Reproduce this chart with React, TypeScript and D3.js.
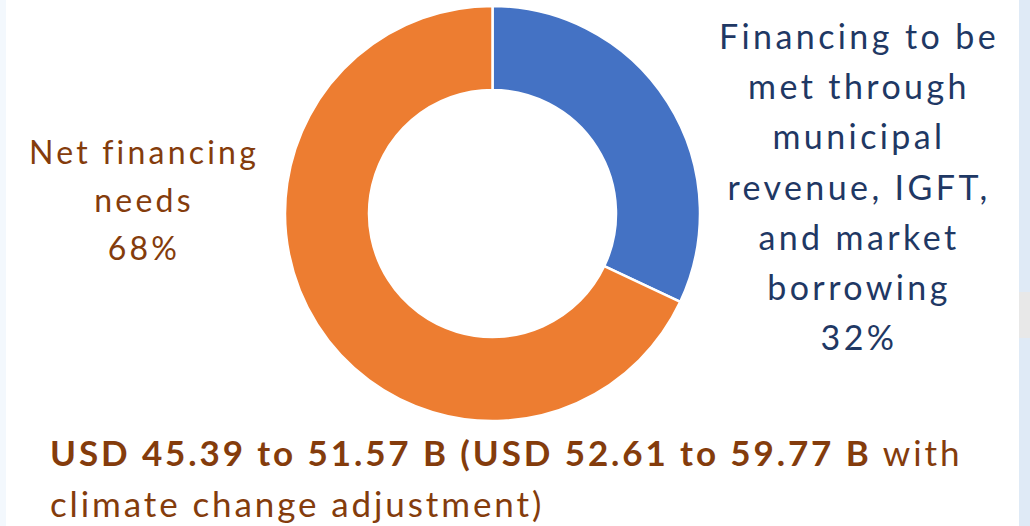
import React from "react";
import * as d3 from "d3";

// shares of the financing requirement
const segments = ["Own sources", "Net financing needs"];
const shares = [32, 68];
const sliceColors = ["#4472C4", "#ED7D31"];

const rightLabel = ["Financing to be", "met through", "municipal", "revenue, IGFT,", "and market", "borrowing", "32%"];
const leftLabel = ["Net financing", "needs", "68%"];
const noteBold = "USD 45.39 to 51.57 B (USD 52.61 to 59.77 B";
const noteRest = ["with", "climate change adjustment)"];

const W = 1030;
const H = 526;
const cx = 492.5;
const cy = 213.5;
const outerR = 207.5;
const innerR = 123.5;
const FONT = "Lato, 'Open Sans', sans-serif";

const App = () => {
  const pie = d3
    .pie<number>()
    .sort(null)
    .value(d => d);
  const arc = d3.arc<d3.PieArcDatum<number>>().innerRadius(innerR).outerRadius(outerR);
  const arcs = pie(shares);

  return (
    <svg
      width={W}
      height={H}
      style={{ position: "absolute", left: 0, top: 0, display: "block" }}
      fontFamily={FONT}
    >
      <rect width={W} height={H} fill="#ffffff" />
      <rect x={0} y={0} width={6} height={H} fill="#f3f8fd" />
      <rect x={1019} y={0} width={11} height={H} fill="#dfeaf6" />
      <rect x={1019} y={292} width={11} height={46} fill="#e8e8e8" />

      <g transform={`translate(${cx},${cy})`}>
        {arcs.map((a, i) => (
          <path key={segments[i]} d={arc(a) || ""} fill={sliceColors[i]} stroke="#ffffff" strokeWidth={2.5} />
        ))}
      </g>

      {/* wider tracking to approximate the original geometric face */}
      <g fill="#843C0C" fontSize={32} textAnchor="middle" letterSpacing={3.2}>
        {leftLabel.map((t, i) => (
          <text key={t} x={144} y={164 + i * 48}>
            {t}
          </text>
        ))}
      </g>

      <g fill="#1F3864" fontSize={34} textAnchor="middle" letterSpacing={3.4}>
        {rightLabel.map((t, i) => (
          <text key={t} x={859} y={49 + i * 50.2}>
            {t}
          </text>
        ))}
      </g>

      <g fill="#843C0C" fontSize={35} letterSpacing={2.9}>
        <text x={50} y={466}>
          <tspan fontWeight="bold">{noteBold}</tspan>
          <tspan> {noteRest[0]}</tspan>
        </text>
        <text x={50} y={517}>
          {noteRest[1]}
        </text>
      </g>
    </svg>
  );
};

export default App;
